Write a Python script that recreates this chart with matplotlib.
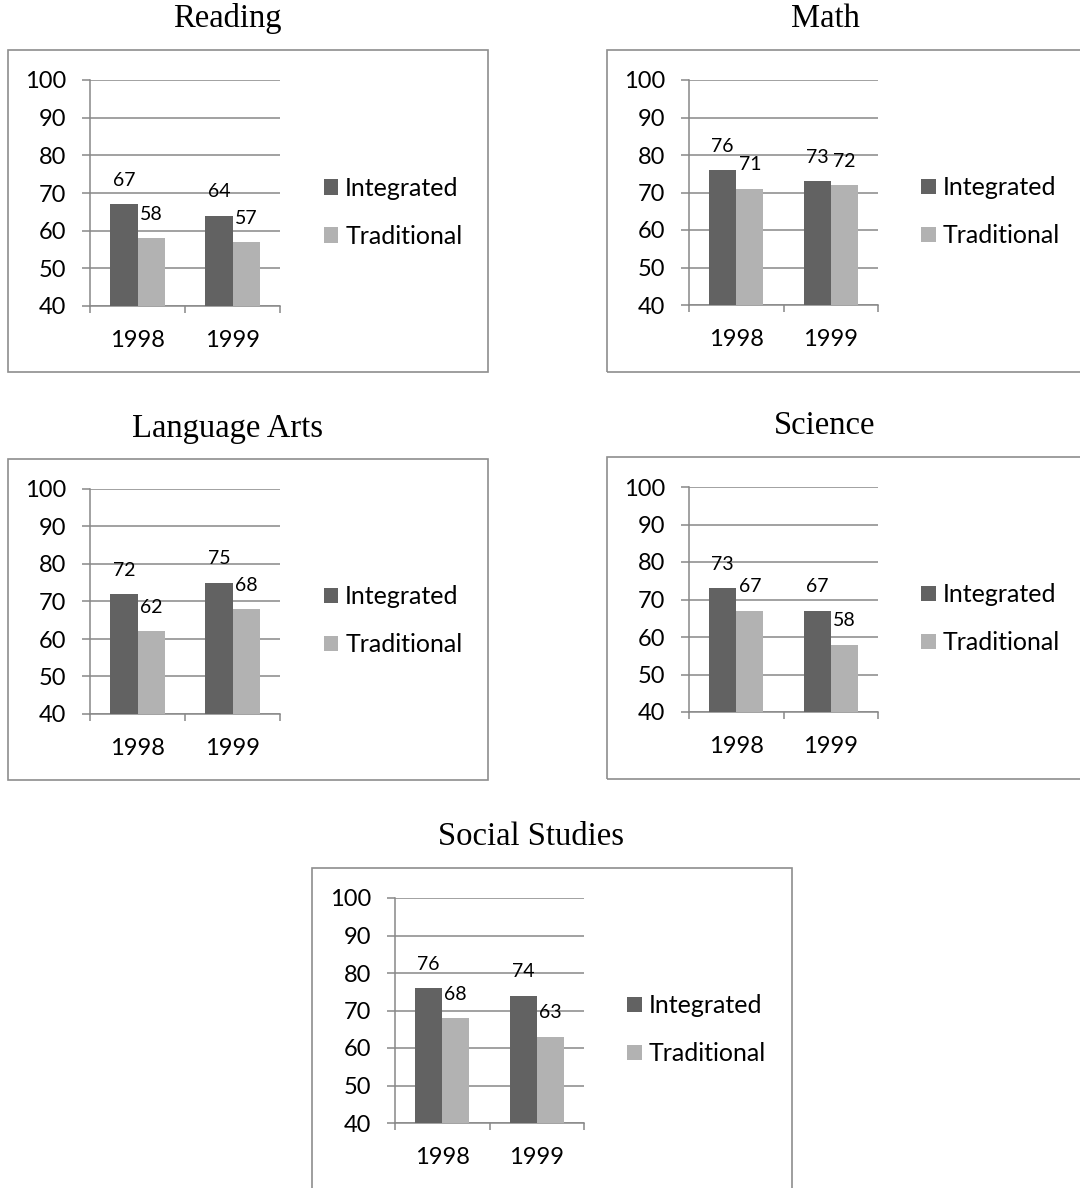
import matplotlib
matplotlib.use("Agg")
import matplotlib.pyplot as plt
from matplotlib.patches import Rectangle

# Test scores (%) for integrated vs. traditional classrooms
subjects = ["Reading", "Math", "Language Arts", "Science", "Social Studies"]
years = ["1998", "1999"]
reading_integrated = [67, 64]
reading_traditional = [58, 57]
math_integrated = [76, 73]
math_traditional = [71, 72]
language_integrated = [72, 75]
language_traditional = [62, 68]
science_integrated = [73, 67]
science_traditional = [67, 58]
social_integrated = [76, 74]
social_traditional = [68, 63]
series_names = ["Integrated", "Traditional"]
y_ticks = [40, 50, 60, 70, 80, 90, 100]

scores = {
    "Reading": (reading_integrated, reading_traditional),
    "Math": (math_integrated, math_traditional),
    "Language Arts": (language_integrated, language_traditional),
    "Science": (science_integrated, science_traditional),
    "Social Studies": (social_integrated, social_traditional),
}

W, H = 1080, 1188
DARK = "#626262"
LIGHT = "#b2b2b2"
GRID = "#888888"
FRAME = "#8e8e8e"
SANS = ["Lato", "DejaVu Sans"]
SERIF = ["Liberation Serif", "DejaVu Serif"]

# pixel layout: plot area (left, top, right, bottom), frame box, title centre/baseline
layout = {
    "Reading":        dict(plot=(90, 80, 280, 306),   box=(8, 50, 488, 372),    title=(227, 27)),
    "Math":           dict(plot=(689, 80, 878, 305),  box=(607, 50, 1095, 372), title=(825, 27)),
    "Language Arts":  dict(plot=(90, 489, 280, 714),  box=(8, 459, 488, 780),   title=(228, 437)),
    "Science":        dict(plot=(689, 487, 878, 712), box=(607, 457, 1095, 779), title=(825, 434)),
    "Social Studies": dict(plot=(395, 898, 584, 1123), box=(312, 868, 792, 1200), title=(531, 845)),
}

fig = plt.figure(figsize=(W / 100, H / 100), dpi=100)
fig.patch.set_facecolor("white")

bar_w = 1 / 3.5
x = list(range(len(years)))

for subj in subjects:
    lay = layout[subj]
    x0, y0, x1, y1 = lay["plot"]
    ax = fig.add_axes([x0 / W, 1 - y1 / H, (x1 - x0) / W, (y1 - y0) / H])

    # outer frame around each chart
    bx0, by0, bx1, by1 = lay["box"]
    fig.patches.append(Rectangle((bx0 / W, 1 - by1 / H), (bx1 - bx0) / W, (by1 - by0) / H,
                                 transform=fig.transFigure, fill=False,
                                 edgecolor=FRAME, linewidth=1.2, zorder=0))
    tx, ty = lay["title"]
    fig.text(tx / W, 1 - ty / H, subj, ha="center", va="baseline",
             fontsize=23.5, family=SERIF, color="black")

    integ, trad = scores[subj]
    b1 = ax.bar([i - bar_w for i in x], integ, width=bar_w, align="edge",
                color=DARK, zorder=3, label=series_names[0])
    b2 = ax.bar(x, trad, width=bar_w, align="edge",
                color=LIGHT, zorder=3, label=series_names[1])
    for bars, vals in ((b1, integ), (b2, trad)):
        for r, v in zip(bars, vals):
            ax.annotate(str(v), (r.get_x() + r.get_width() / 2, v),
                        xytext=(0, 11), textcoords="offset points",
                        ha="center", va="bottom", fontsize=14, family=SANS)

    ax.set_xlim(-0.5, len(years) - 0.5)
    ax.set_ylim(40, 100)
    ax.set_yticks(y_ticks)
    ax.yaxis.grid(True, color=GRID, linewidth=1.1, zorder=0)
    ax.set_axisbelow(True)

    ax.set_xticks([-0.5, 0.5, 1.5])
    ax.set_xticklabels([])
    ax.set_xticks(x, minor=True)
    ax.set_xticklabels(years, minor=True)
    ax.tick_params(axis="x", which="major", direction="out", length=5, width=1.1,
                   color=GRID)
    ax.tick_params(axis="x", which="minor", length=0, pad=17, labelsize=17)
    ax.tick_params(axis="y", direction="out", length=6, width=1.1, color=GRID,
                   pad=11, labelsize=17)
    for lbl in ax.get_xticklabels(minor=True) + ax.get_yticklabels():
        lbl.set_family(SANS)

    for side in ("top", "right"):
        ax.spines[side].set_visible(False)
    for side in ("left", "bottom"):
        ax.spines[side].set_color(GRID)
        ax.spines[side].set_linewidth(1.1)
    ax.patch.set_visible(False)

    leg = ax.legend(loc="center left", bbox_to_anchor=(1.23, 0.415), frameon=False,
                    prop={"family": SANS, "size": 18}, handlelength=0.58,
                    handleheight=0.58, handletextpad=0.28, labelspacing=1.0,
                    borderpad=0, borderaxespad=0)

fig.savefig("out.png", dpi=100, facecolor="white")
